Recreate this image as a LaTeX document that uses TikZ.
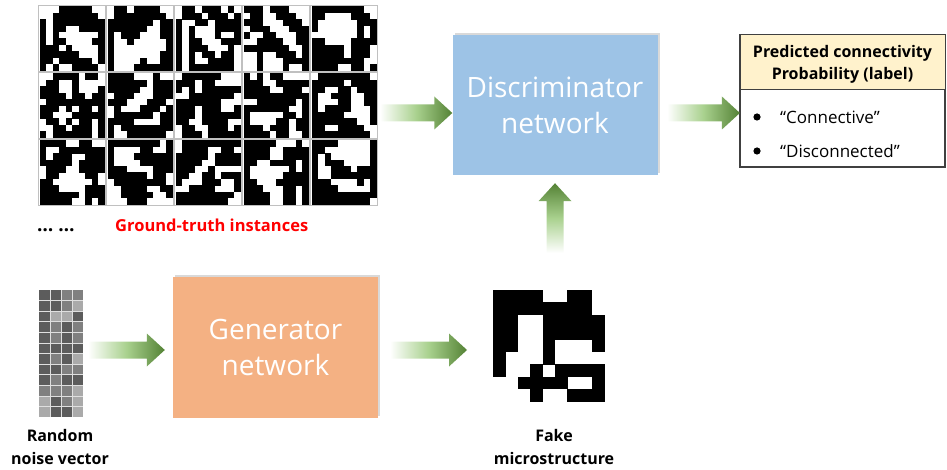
\documentclass[tikz,border=0pt]{standalone}
\usepackage{fontspec}
\setmainfont{Open Sans}
\usetikzlibrary{calc,shadows}
\definecolor{discblue}{HTML}{9DC3E6}
\definecolor{genorange}{HTML}{F4B183}
\definecolor{headyellow}{HTML}{FFF2CC}
\definecolor{arrg}{HTML}{548235}
\definecolor{arrm}{HTML}{A9D18E}
\definecolor{tilegray}{HTML}{C0C0C0}
\definecolor{boxline}{HTML}{404040}
\definecolor{gtred}{HTML}{FF0000}
\colorlet{tc1}{black}
\definecolor{nc1}{HTML}{5C5C5C}
\definecolor{nc2}{HTML}{808080}
\definecolor{nc3}{HTML}{AAAAAA}
\newcount\rsCX
\newcount\rsCY
\def\rsrow#1{\rsCX=0\relax\rsloop#1\relax\advance\rsCY by 1\relax}
\def\rsloop#1{\ifx#1\relax\else\if#10\else\edef\rscol{\rspre#1}\fill[fill=\rscol] ({\rsX+\the\rsCX*\rsW},{\rsY+\the\rsCY*\rsH}) rectangle ++({\rsW+0.25},{\rsH+0.25});\fi\advance\rsCX by 1\relax\expandafter\rsloop\fi}
\newcommand\rstile[2]{\def\rsX{#1+1.5}\def\rsY{#2+1.5}\def\rsW{6.5}\def\rsH{6.4}\def\rspre{tc}\rsCY=0\relax\fill[white] (#1,#2) rectangle ++(68,67);}
\newcommand\rsframe[2]{\draw[tilegray, line width=1.3pt] (#1+0.65,#2+0.65) rectangle ++(66.7,65.7);}
\newcommand\harrow[2]{\shade[left color=white, right color=arrg, middle color=arrm] let \p1=(#1), \p2=(#2) in (\x1,\y1+8.5pt) -- (\x2-18pt,\y1+8.5pt) -- (\x2-18pt,\y1+16.5pt) -- (\x2,\y1) -- (\x2-18pt,\y1-16.5pt) -- (\x2-18pt,\y1-8.5pt) -- (\x1,\y1-8.5pt) -- cycle;}
\newcommand\varrow[2]{\shade[bottom color=white, top color=arrg, middle color=arrm] let \p1=(#1), \p2=(#2) in (\x1-8.5pt,\y1) -- (\x1-8.5pt,\y2-18pt) -- (\x1-16.5pt,\y2-18pt) -- (\x1,\y2) -- (\x1+16.5pt,\y2-18pt) -- (\x1+8.5pt,\y2-18pt) -- (\x1+8.5pt,\y1) -- cycle;}
\begin{document}
\begin{tikzpicture}[x=1pt,y=-1pt,
  netbox/.style={minimum width=205pt, minimum height=140pt, inner sep=0pt, text=white, align=center,
    font=\fontsize{28}{36}\selectfont, drop shadow={shadow xshift=2pt, shadow yshift=2pt, opacity=0.3}},
  caption/.style={font=\bfseries\fontsize{16}{23}\selectfont, align=center, inner sep=0pt},
  labtext/.style={font=\fontsize{17}{22}\selectfont, anchor=base west, inner sep=0pt}]
\useasboundingbox (0,0) rectangle (947,470);

% ---------- ground-truth tiles ----------
\rstile{38}{5}
\rsrow{0001111100}\rsrow{0011111110}\rsrow{1011111111}\rsrow{1011001111}\rsrow{1010000001}
\rsrow{1011000011}\rsrow{1110100001}\rsrow{1111110001}\rsrow{1101111101}\rsrow{1010011110}
\rsframe{38}{5}
\rstile{106}{5}
\rsrow{0110111100}\rsrow{0111111110}\rsrow{1111111011}\rsrow{1111110011}\rsrow{1011100011}
\rsrow{1001000001}\rsrow{1000000001}\rsrow{1000000011}\rsrow{1000010011}\rsrow{1000111111}
\rsframe{106}{5}
\rstile{174}{5}
\rsrow{0110111010}\rsrow{0111011101}\rsrow{1001101111}\rsrow{1010001111}\rsrow{1010001001}
\rsrow{1011000111}\rsrow{1011100010}\rsrow{1010110110}\rsrow{1010011110}\rsrow{1011111110}
\rsframe{174}{5}
\rstile{242}{5}
\rsrow{1110111000}\rsrow{0110011100}\rsrow{1110001110}\rsrow{0111000111}\rsrow{1001100011}
\rsrow{0011110011}\rsrow{1111111001}\rsrow{0010011101}\rsrow{0010001111}\rsrow{0010001001}
\rsframe{242}{5}
\rstile{310}{5}
\rsrow{1111111100}\rsrow{1100001110}\rsrow{1000000111}\rsrow{1000000101}\rsrow{0000000101}
\rsrow{1100001111}\rsrow{1111101110}\rsrow{1111101110}\rsrow{1111111100}\rsrow{1111001101}
\rsframe{310}{5}

\rstile{38}{72}
\rsrow{0011110110}\rsrow{0110010000}\rsrow{1110010001}\rsrow{1111011011}\rsrow{0111111111}
\rsrow{1110101101}\rsrow{1100011111}\rsrow{0110101101}\rsrow{0011011101}\rsrow{1011111101}
\rsframe{38}{72}
\rstile{106}{72}
\rsrow{1111000100}\rsrow{1111110111}\rsrow{1111100111}\rsrow{0111000111}\rsrow{1110001110}
\rsrow{0100011101}\rsrow{0111111011}\rsrow{1111000011}\rsrow{1011111111}\rsrow{1001111110}
\rsframe{106}{72}
\rstile{174}{72}
\rsrow{0111111000}\rsrow{1110110000}\rsrow{1010111111}\rsrow{0011111110}\rsrow{1111111000}
\rsrow{1110111001}\rsrow{1110111111}\rsrow{1100111100}\rsrow{0110011101}\rsrow{0111011111}
\rsframe{174}{72}
\rstile{242}{72}
\rsrow{1010110000}\rsrow{1110011111}\rsrow{1111001110}\rsrow{1111111111}\rsrow{0011111101}
\rsrow{1111111001}\rsrow{1000001101}\rsrow{1000011011}\rsrow{1110111011}\rsrow{1111011001}
\rsframe{242}{72}
\rstile{310}{72}
\rsrow{0111111110}\rsrow{1111101111}\rsrow{1100110111}\rsrow{1001110011}\rsrow{1000110011}
\rsrow{1011110001}\rsrow{1111100001}\rsrow{1111111001}\rsrow{1100111100}\rsrow{1111111110}
\rsframe{310}{72}

\rstile{38}{139}
\rsrow{1111001100}\rsrow{1001111111}\rsrow{1011100111}\rsrow{1111101111}\rsrow{0111001111}
\rsrow{0110000110}\rsrow{1100000010}\rsrow{1110000111}\rsrow{1111110111}\rsrow{1111100101}
\rsframe{38}{139}
\rstile{106}{139}
\rsrow{1111111101}\rsrow{1000011001}\rsrow{1000111111}\rsrow{1000011111}\rsrow{1110000111}
\rsrow{1111110110}\rsrow{0111111110}\rsrow{0011110011}\rsrow{0011111001}\rsrow{0001110000}
\rsframe{106}{139}
\rstile{174}{139}
\rsrow{0111111111}\rsrow{0111100110}\rsrow{1111101111}\rsrow{1111001111}\rsrow{1110010000}
\rsrow{1100110111}\rsrow{1000111001}\rsrow{0011110001}\rsrow{1111111110}\rsrow{1111111100}
\rsframe{174}{139}
\rstile{242}{139}
\rsrow{1111100010}\rsrow{1111001111}\rsrow{1111001111}\rsrow{1100111101}\rsrow{1000000101}
\rsrow{1000001111}\rsrow{1100011111}\rsrow{1110001101}\rsrow{1111001101}\rsrow{1111001101}
\rsframe{242}{139}
\rstile{310}{139}
\rsrow{1111000001}\rsrow{1100000001}\rsrow{1010000001}\rsrow{1011100001}\rsrow{1001110111}
\rsrow{1001111111}\rsrow{1110000101}\rsrow{1111000001}\rsrow{1111111111}\rsrow{1111111110}
\rsframe{310}{139}

\node[font=\bfseries\fontsize{19}{20}\selectfont, anchor=base west, inner sep=0pt] (dots) at (37,232) {…\hspace{5pt}…};
\node[font=\bfseries\fontsize{16.5}{20}\selectfont, text=gtred, anchor=base west, inner sep=0pt] (gt) at (115,232) {Ground-truth instances};

% ---------- noise vector ----------
\def\rsX{39}\def\rsY{290}\def\rsW{11}\def\rsH{10.6}\def\rspre{nc}\rsCY=0\relax
\rsrow{1122}\rsrow{1123}\rsrow{1331}\rsrow{1212}\rsrow{1212}\rsrow{1111}
\rsrow{1213}\rsrow{1122}\rsrow{1211}\rsrow{2223}\rsrow{3123}\rsrow{3113}
\foreach \i in {1,2,3} \draw[white!75!gray, line width=0.8pt] (39+\i*11,290) -- ++(0,127.2);
\foreach \j in {1,...,11} \draw[white!75!gray, line width=0.8pt] (39,290+\j*10.6) -- ++(44,0);
\node[caption] (noiselbl) at (60,447) {Random\\noise vector};

% ---------- fake microstructure ----------
\def\rsX{493}\def\rsY{290}\def\rsW{12.4}\def\rsH{12.4}\def\rspre{tc}\rsCY=0\relax
\rsrow{111100110}\rsrow{111111110}\rsrow{110011111}\rsrow{110011111}\rsrow{110010001}
\rsrow{100010000}\rsrow{100101111}\rsrow{001111001}\rsrow{000100111}
\coordinate (fakeW) at (493,350);
\node[caption] (fakelbl) at (554,447) {Fake\\microstructure};

% ---------- networks ----------
\node[netbox, fill=discblue] (disc) at (555,105) {Discriminator\\network};
\node[netbox, fill=genorange, minimum height=141pt] (gen) at (275.5,347.5) {Generator\\network};

% ---------- label box ----------
\node[draw=boxline, line width=1.2pt, minimum width=204pt, minimum height=132pt, inner sep=0pt] (lab) at (842.5,101) {};
\fill[headyellow] ($(lab.north west)+(0.6,0.6)$) rectangle ($(lab.north east)+(-0.6,55)$);
\draw[boxline, line width=1.2pt] ($(lab.north west)+(0,55)$) -- ($(lab.north east)+(0,55)$);
\draw[boxline, line width=1.2pt] (lab.north west) rectangle (lab.south east);
\node[font=\bfseries\fontsize{16}{22}\selectfont, align=center, inner sep=0pt] (labhead) at (842.5,64) {Predicted connectivity\\Probability (label)};
\fill (757,117) circle (3.6pt) coordinate (b1);
\fill (757,151) circle (3.6pt) coordinate (b2);
\node[labtext] (conn) at (780,124) {“Connective”};
\node[labtext] (disconn) at (780,158) {“Disconnected”};

% ---------- arrows ----------
\coordinate (a1s) at (380,113);
\coordinate (a2s) at (667,113);
\coordinate (a3s) at (555,253);
\coordinate (a4s) at (88,350);
\coordinate (a5s) at (390,350);
\harrow{a1s}{disc.west |- a1s}
\harrow{a2s}{lab.west |- a2s}
\varrow{a3s}{$(disc.south -| a3s)+(0,8)$}
\harrow{a4s}{$(gen.west |- a4s)+(-8,0)$}
\harrow{a5s}{$(fakeW)+(-26,0)$}
\end{tikzpicture}
\end{document}
